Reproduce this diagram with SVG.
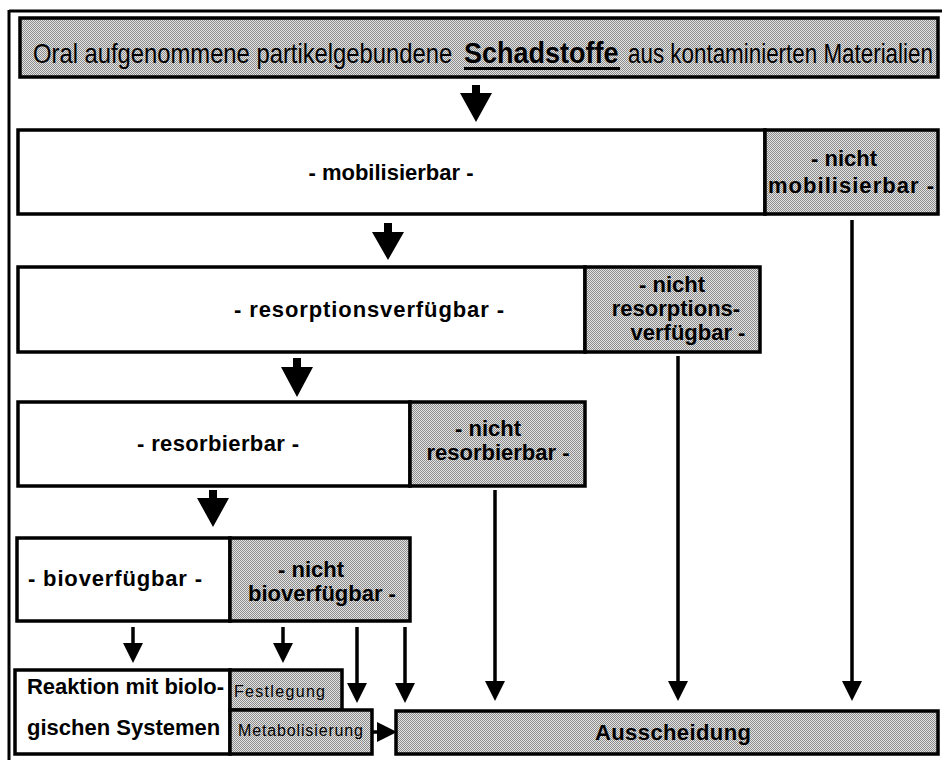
<svg xmlns="http://www.w3.org/2000/svg" width="942" height="760" viewBox="0 0 942 760">
<defs>
<pattern id="dots" width="2" height="2" patternUnits="userSpaceOnUse">
<rect width="2" height="2" fill="#e4e4e4"/>
<rect width="1" height="1" fill="#8c8c8c"/>
<rect x="1" y="1" width="1" height="1" fill="#8c8c8c"/>
</pattern>
<marker id="head" viewBox="0 0 20 20" refX="0" refY="10" markerWidth="20" markerHeight="20" markerUnits="userSpaceOnUse" orient="auto">
<path d="M0,0 L20,10 L0,20 z" fill="#000"/>
</marker>
</defs>
<style>
.box{fill:#fff;stroke:#000;stroke-width:3.5}
.gray{fill:url(#dots);stroke:#000;stroke-width:3.5}
.t{font-family:"Liberation Sans",Arial,sans-serif;fill:#000}
.b{font-weight:bold;font-size:22px}
.c{text-anchor:middle}
.r{font-size:16px}
.ln{stroke:#000;stroke-width:3.5;fill:none}
.big{fill:#000}
</style>

<g id="frame">
<line x1="9" y1="11" x2="942" y2="11" stroke="#000" stroke-width="3"/>
<line x1="9" y1="10" x2="9" y2="760" stroke="#000" stroke-width="3"/>
</g>

<g id="title">
<rect class="gray" x="20" y="18" width="918" height="59"/>
<text class="t" transform="translate(33,63) scale(0.85,1)" font-size="28">Oral aufgenommene partikelgebundene</text>
<text class="t" transform="translate(464,63) scale(0.9,1)" font-size="30" font-weight="bold">Schadstoffe</text>
<rect x="464" y="67" width="156" height="3" fill="#000"/>
<text class="t" transform="translate(628,63) scale(0.8,1)" font-size="28">aus kontaminierten Materialien</text>
</g>

<g id="mobilisierbar">
<rect class="box" x="18" y="130" width="747" height="84"/>
<text class="t b c" x="391" y="180">- mobilisierbar -</text>
</g>
<g id="nicht-mobilisierbar">
<rect class="gray" x="765" y="130" width="173" height="84"/>
<text class="t b c" x="844" y="166">- nicht</text>
<text class="t b c" x="851" y="193" textLength="166" lengthAdjust="spacing">mobilisierbar -</text>
</g>

<g id="resorptionsverfuegbar">
<rect class="box" x="18" y="267" width="567" height="85"/>
<text class="t b c" x="369" y="317" textLength="270" lengthAdjust="spacing">- resorptionsverfügbar -</text>
</g>
<g id="nicht-resorptionsverfuegbar">
<rect class="gray" x="585" y="267" width="175" height="85"/>
<text class="t b c" x="672" y="292">- nicht</text>
<text class="t b c" x="676" y="316">resorptions-</text>
<text class="t b c" x="688" y="340">verfügbar -</text>
</g>

<g id="resorbierbar">
<rect class="box" x="18" y="402" width="392" height="84"/>
<text class="t b c" x="218" y="451" textLength="162" lengthAdjust="spacing">- resorbierbar -</text>
</g>
<g id="nicht-resorbierbar">
<rect class="gray" x="410" y="402" width="175" height="84"/>
<text class="t b c" x="488" y="436">- nicht</text>
<text class="t b c" x="498" y="460">resorbierbar -</text>
</g>

<g id="bioverfuegbar">
<rect class="box" x="17" y="538" width="213" height="83"/>
<text class="t b c" x="115" y="586" textLength="174" lengthAdjust="spacing">- bioverfügbar -</text>
</g>
<g id="nicht-bioverfuegbar">
<rect class="gray" x="230" y="538" width="180" height="83"/>
<text class="t b c" x="311" y="577">- nicht</text>
<text class="t b c" x="322" y="601">bioverfügbar -</text>
</g>

<g id="reaktion">
<rect class="box" x="15" y="670" width="215" height="84"/>
<text class="t b" x="27" y="694" textLength="197" lengthAdjust="spacing">Reaktion mit biolo-</text>
<text class="t b" x="27" y="735">gischen Systemen</text>
</g>
<g id="festlegung">
<rect class="gray" x="230" y="670" width="112" height="40"/>
<text class="t r" x="234" y="697" textLength="91" lengthAdjust="spacing">Festlegung</text>
</g>
<g id="metabolisierung">
<rect class="gray" x="230" y="710" width="142" height="44"/>
<text class="t r" x="238" y="736" textLength="125" lengthAdjust="spacing">Metabolisierung</text>
</g>

<g id="ausscheidung">
<rect class="gray" x="396" y="711" width="542" height="43"/>
<text class="t b c" x="673" y="740" textLength="156" lengthAdjust="spacing">Ausscheidung</text>
</g>

<g id="connectors">
<polygon class="big" points="472,85 480,85 480,93 492,93 476,122 460,93 472,93"/>
<polygon class="big" points="384,223 392,223 392,232 404,232 388,260 372,232 384,232"/>
<polygon class="big" points="293,358 301,358 301,367 313,367 297,397 281,367 293,367"/>
<polygon class="big" points="209,490 217,490 217,498 229,498 213,527 197,498 209,498"/>
<line class="ln" x1="133" y1="627" x2="133" y2="643" marker-end="url(#head)"/>
<line class="ln" x1="283" y1="627" x2="283" y2="643" marker-end="url(#head)"/>
<line class="ln" x1="357" y1="627" x2="357" y2="683" marker-end="url(#head)"/>
<line class="ln" x1="405" y1="627" x2="405" y2="683" marker-end="url(#head)"/>
<line class="ln" x1="495" y1="490" x2="495" y2="681" marker-end="url(#head)"/>
<line class="ln" x1="678" y1="356" x2="678" y2="681" marker-end="url(#head)"/>
<line class="ln" x1="852" y1="220" x2="852" y2="681" marker-end="url(#head)"/>
<line class="ln" x1="372" y1="732" x2="377" y2="732" marker-end="url(#head)"/>
</g>
</svg>
